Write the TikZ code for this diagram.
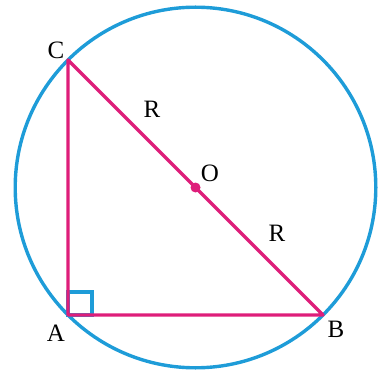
\documentclass[tikz,border=0pt]{standalone}
\usepackage{fontspec}
\setmainfont{Liberation Serif}
\definecolor{pinkline}{RGB}{222,30,122}
\definecolor{blueline}{RGB}{30,156,216}
\begin{document}
\begin{tikzpicture}[x=1pt,y=-1pt,
  edge/.style={draw=pinkline,line width=3.4pt,line join=round},
  ring/.style={draw=blueline,line width=3.4pt},
  lbl/.style={font=\fontsize{25}{25}\selectfont,inner sep=0pt}]
\useasboundingbox (0,0) rectangle (379,371);
\coordinate (A) at (68,315);
\coordinate (B) at (323,315);
\coordinate (C) at (68,60);
\coordinate (O) at (195.5,187.5);
\draw[ring] (O) circle (180.3);
\draw[ring,line width=3.4pt] (A) rectangle ++(24,-23);
\draw[edge] (C) -- (A) -- (B) -- cycle;
\fill[pinkline] (O) circle (5);
\node[lbl] (lC) at (56,50) {C};
\node[lbl] (lA) at (56,333) {A};
\node[lbl] (lB) at (336,329) {B};
\node[lbl] (lO) at (210,173) {O};
\node[lbl] (lR1) at (152,109) {R};
\node[lbl] (lR2) at (277,233) {R};
\end{tikzpicture}
\end{document}
